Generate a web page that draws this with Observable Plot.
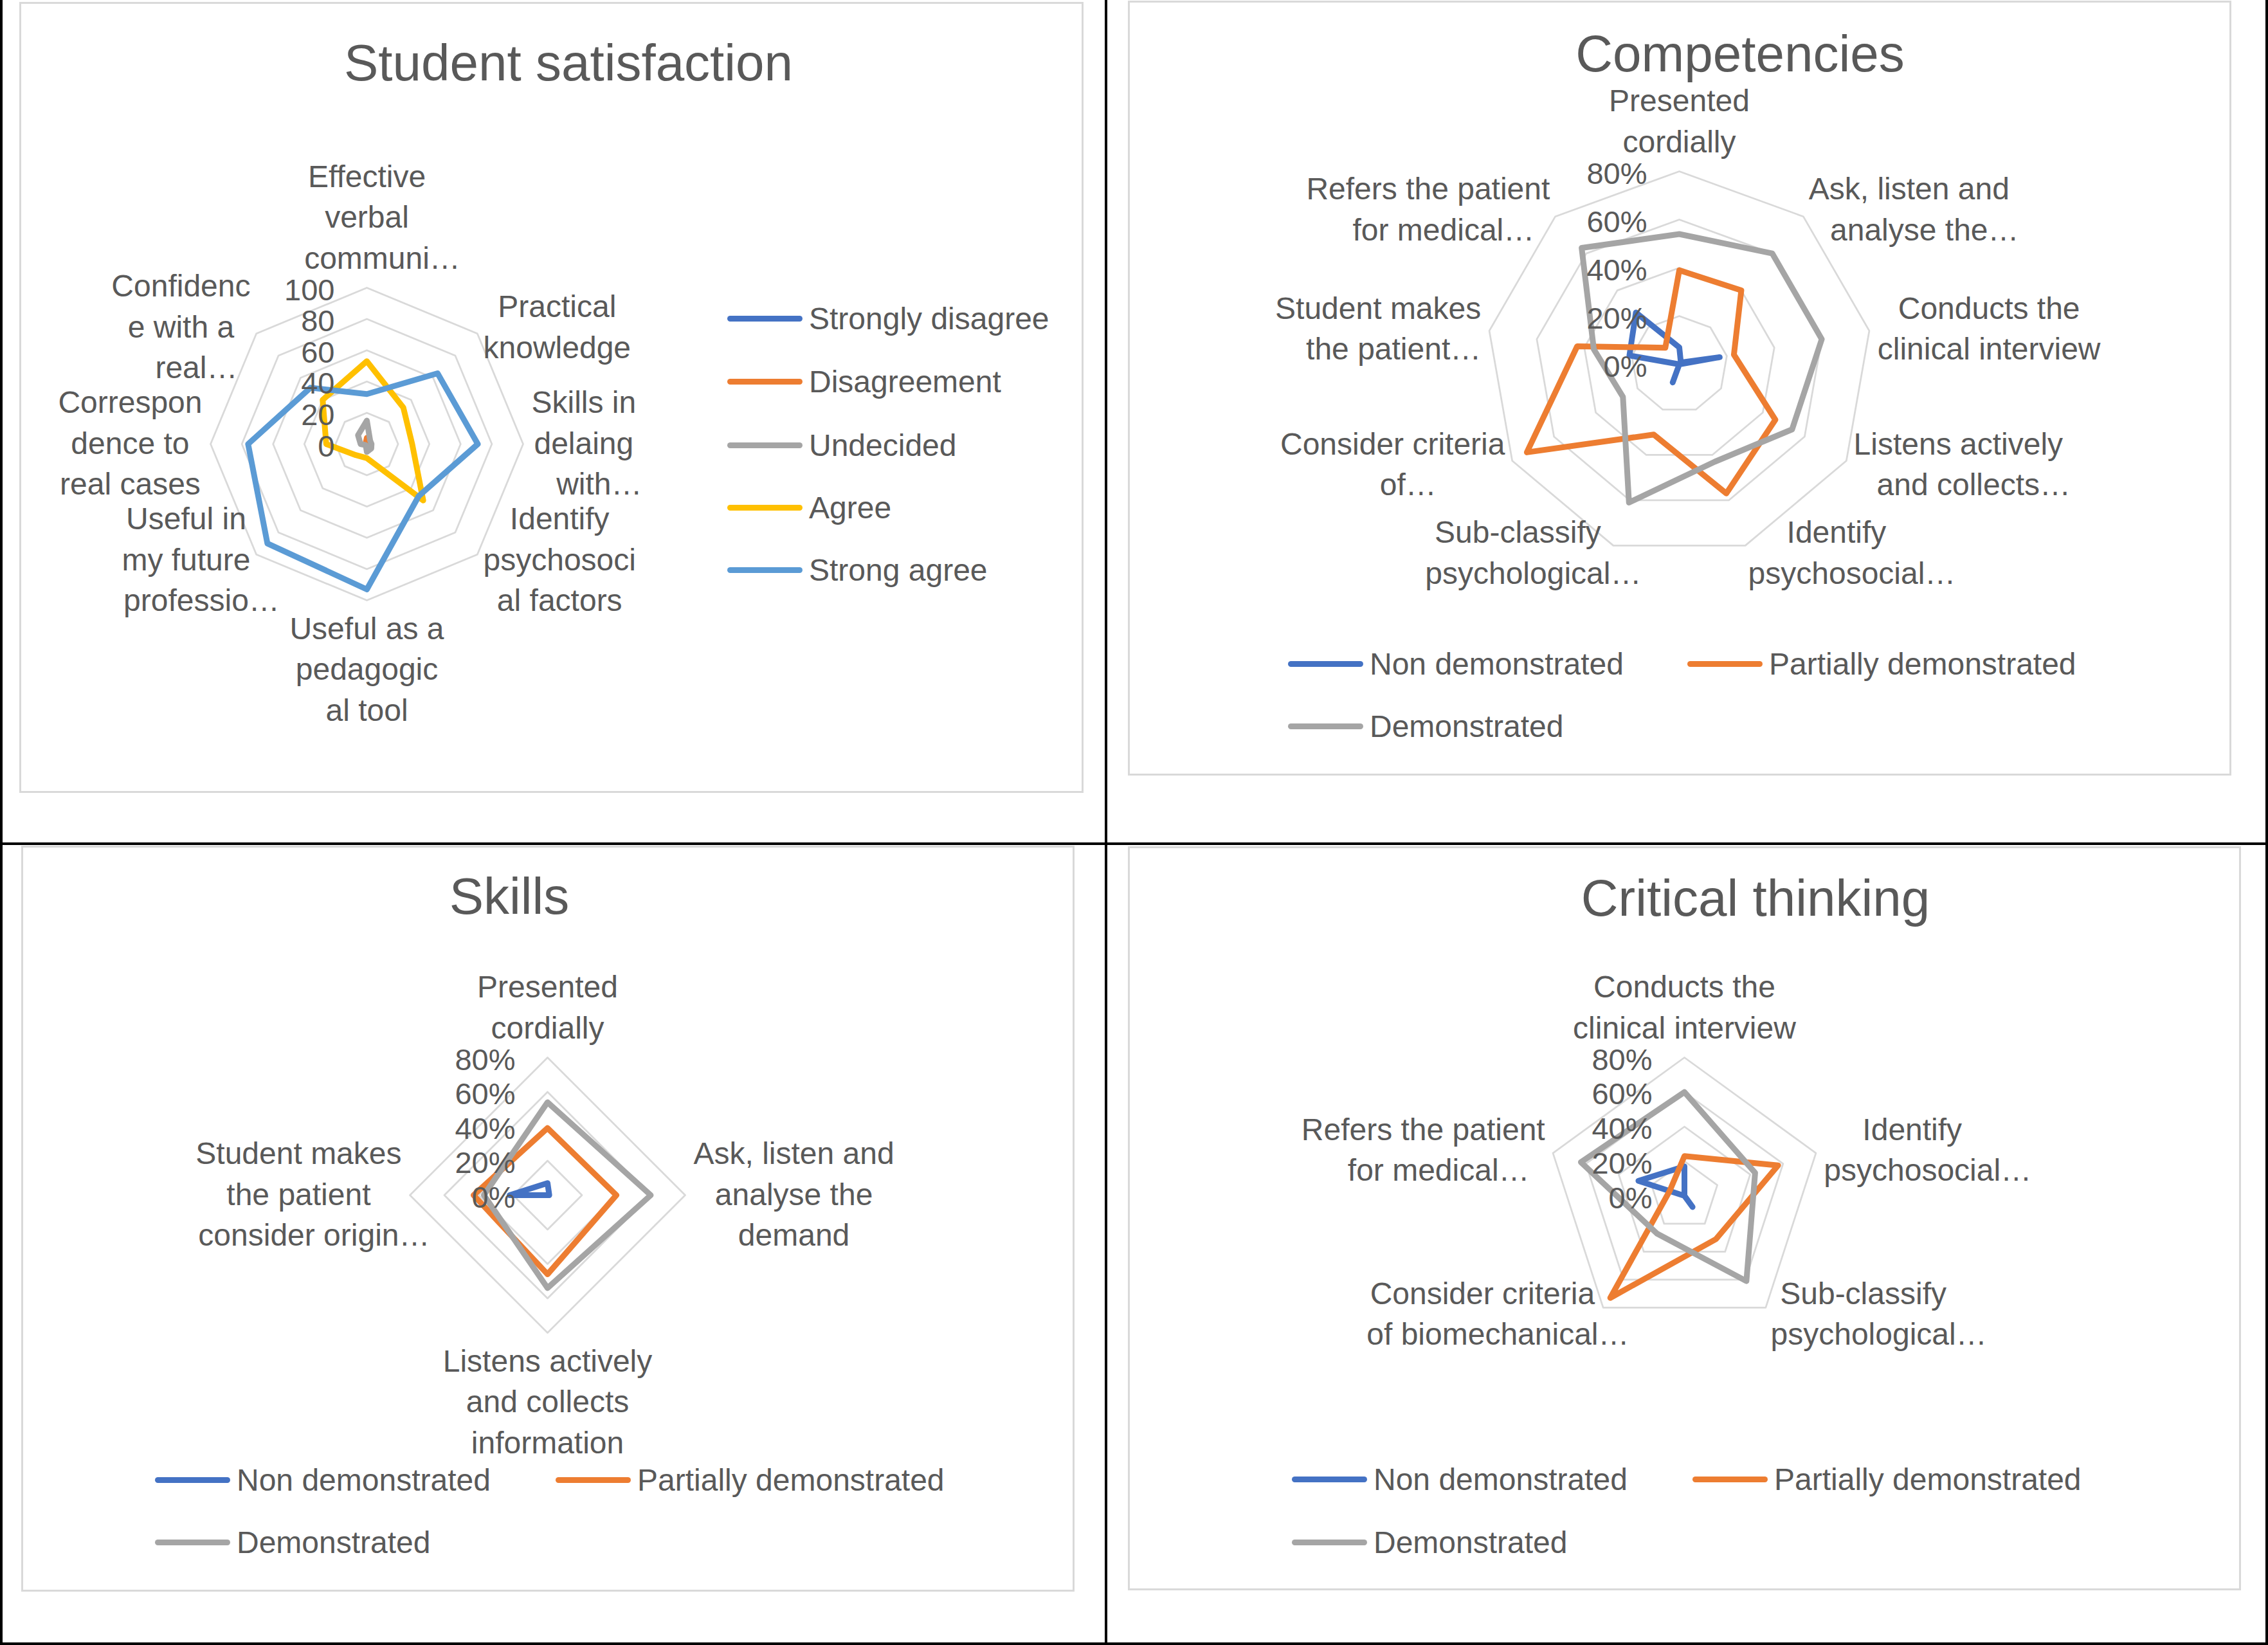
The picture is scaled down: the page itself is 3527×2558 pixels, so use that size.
<!DOCTYPE html>
<html><head><meta charset="utf-8">
<script src="https://cdn.jsdelivr.net/npm/d3@7"></script>
<script src="https://cdn.jsdelivr.net/npm/@observablehq/plot@0.6"></script>
<style>
html,body{margin:0;padding:0;background:#fff;}
#page{position:relative;width:3527px;height:2558px;overflow:hidden;background:#fff;font-family:"Liberation Sans",Arial,sans-serif;color:#595959;}
.panel{position:absolute;box-sizing:border-box;border:3px solid #d9d9d9;}
.title{position:absolute;font-size:80px;line-height:80px;white-space:nowrap;transform:translateX(-50%);}
.leg{position:absolute;display:flex;align-items:center;font-size:48px;white-space:nowrap;height:60px;}
.leg .sw{width:117px;height:9px;border-radius:4.5px;flex:none;}
.leg .tx{margin-left:10px;}
.rule{position:absolute;background:#000;}
</style></head><body><div id="page"></div>
<script>
// ---------- DATA ----------
// Student satisfaction
const satCategories = [
  "Effective\nverbal\ncommuni…",
  "Practical\nknowledge",
  "Skills in\ndelaing\nwith…",
  "Identify\npsychosoci\nal factors",
  "Useful as a\npedagogic\nal tool",
  "Useful in\nmy future\nprofessio…",
  "Correspon\ndence to\nreal cases",
  "Confidenc\ne with a\nreal…"
];
const satSeries = ["Strongly disagree", "Disagreement", "Undecided", "Agree", "Strong agree"];
const satStronglyDisagree = [0, 0, 0, 0, 0, 0, 0, 0];
const satDisagreement = [4, 1, 0, 1, 1, 0, 1, 1];
const satUndecided = [15, 3, 3, 4, 5, 1, 4, 8];
const satAgree = [53, 33, 29, 51, 9, 10, 26, 40];
const satStrongAgree = [32, 64, 71, 47, 93, 90, 76, 51];
const satTicks = [0, 20, 40, 60, 80, 100];
const satTickLabels = ["0", "20", "40", "60", "80", "100"];

// Competencies
const compCategories = [
  "Presented\ncordially",
  "Ask, listen and\nanalyse the…",
  "Conducts the\nclinical interview",
  "Listens actively\nand collects…",
  "Identify\npsychosocial…",
  "Sub-classify\npsychological…",
  "Consider criteria\nof…",
  "Student makes\nthe patient…",
  "Refers the patient\nfor medical…"
];
const demoSeries = ["Non demonstrated", "Partially demonstrated", "Demonstrated"];
const compNon = [7, 1, 17, 0, 0, 8, 0, 21, 28];
const compPartial = [39, 40, 23, 46, 57, 31, 73, 43, 9];
const compDemo = [54, 60, 60, 54, 43, 61, 27, 36, 63];

// Skills
const skillsCategories = [
  "Presented\ncordially",
  "Ask, listen and\nanalyse the\ndemand",
  "Listens actively\nand collects\ninformation",
  "Student makes\nthe patient\nconsider origin…"
];
const skillsNon = [7, 1, 0, 22];
const skillsPartial = [39, 40, 46, 43];
const skillsDemo = [54, 60, 54, 37];

// Critical thinking
const critCategories = [
  "Conducts the\nclinical interview",
  "Identify\npsychosocial…",
  "Sub-classify\npsychological…",
  "Consider criteria\nof biomechanical…",
  "Refers the patient\nfor medical…"
];
const critNon = [17, 0, 8, 0, 28];
const critPartial = [23, 57, 31, 73, 9];
const critDemo = [60, 43, 61, 27, 63];

const pctTicks = [0, 20, 40, 60, 80];
const pctTickLabels = ["0%", "20%", "40%", "60%", "80%"];

const satColors = ["#4472C4", "#ED7D31", "#A5A5A5", "#FFC000", "#5B9BD5"];
const demoColors = ["#4472C4", "#ED7D31", "#A5A5A5"];

// ---------- DRAWING ----------
const TEXT = "#595959";
const FONT = '"Liberation Sans", Arial, sans-serif';
const LABEL_SIZE = 48, TICK_SIZE = 47, LINE_H = 63.5, GAP = 13, TOPGAP = 45;
const page = document.getElementById("page");
const mctx = document.createElement("canvas").getContext("2d");
function textWidth(s, size) { mctx.font = `${size}px "Liberation Sans"`; return mctx.measureText(s).width; }

function radar(cfg) {
  const {categories, seriesNames, seriesValues, colors, ticks, tickLabels, max, box, center, radiusPx} = cfg;
  const W = box.w, H = box.h;
  const k = radiusPx / max;
  const cx = center.x - box.x, cy = center.y - box.y;
  const n = categories.length;
  const ang = i => 2 * Math.PI * i / n;
  const px = (v, i) => v * Math.sin(ang(i));
  const py = (v, i) => v * Math.cos(ang(i));
  const rings = [];
  ticks.filter(t => t > 0).forEach(t => { for (let i = 0; i < n; i++) rings.push({ring: t, x: px(t, i), y: py(t, i)}); });
  const pts = [];
  seriesNames.forEach((s, j) => seriesValues[j].forEach((v, i) => pts.push({series: s, x: px(v, i), y: py(v, i)})));
  const tickData = ticks.map((t, i) => ({v: t, label: tickLabels[i]}));
  const marks = [
    Plot.line(rings, {x: "x", y: "y", z: "ring", curve: "linear-closed", stroke: "#d9d9d9", strokeWidth: 2.75}),
    Plot.line(pts, {x: "x", y: "y", z: "series", stroke: "series", curve: "linear-closed", strokeWidth: 9, strokeLinejoin: "round", strokeLinecap: "round"}),
    Plot.text(tickData, {x: () => 0, y: "v", text: "label", textAnchor: "end", lineAnchor: "middle", dx: -50, dy: 4, fontSize: TICK_SIZE, fill: TEXT})
  ];
  categories.forEach((cat, i) => {
    const a = ang(i), s = Math.sin(a), c = Math.cos(a);
    const lines = cat.split("\n");
    const bases = lines.map(l => textWidth(l.replace(/…$/, ""), LABEL_SIZE));
    const boxW = Math.max(...bases);
    const L = lines.length;
    const vertex = [{x: px(max, i), y: py(max, i)}];
    lines.forEach((line, j) => {
      let bx, by;
      if (Math.abs(s) < 1e-6) {
        bx = 0;
        by = c > 0 ? -TOPGAP - (L - 1 - j) * LINE_H : TOPGAP + j * LINE_H;
      } else {
        bx = GAP * s + Math.sign(s) * boxW / 2;
        by = -GAP * c + (j - (L - 1) / 2) * LINE_H;
      }
      marks.push(Plot.text(vertex, {x: "x", y: "y", text: () => line, textAnchor: "start", lineAnchor: "middle",
        dx: bx - bases[j] / 2, dy: by, fontSize: LABEL_SIZE, fill: TEXT}));
    });
  });
  const svg = Plot.plot({
    width: W, height: H, margin: 0,
    x: {domain: [-cx / k, (W - cx) / k], axis: null},
    y: {domain: [-(H - cy) / k, cy / k], axis: null},
    color: {domain: seriesNames, range: colors},
    style: {fontFamily: FONT, fontSize: LABEL_SIZE + "px", color: TEXT, background: "transparent", overflow: "visible"},
    marks
  });
  svg.style.position = "absolute";
  svg.style.left = box.x + "px";
  svg.style.top = box.y + "px";
  page.appendChild(svg);
}

function panel(x1, y1, x2, y2) {
  const d = document.createElement("div");
  d.className = "panel";
  Object.assign(d.style, {left: (x1 - 1.5) + "px", top: (y1 - 1.5) + "px", width: (x2 - x1 + 3) + "px", height: (y2 - y1 + 3) + "px"});
  page.appendChild(d);
}
function title(text, cx, baseline) {
  const d = document.createElement("div");
  d.className = "title";
  d.textContent = text;
  d.style.left = cx + "px";
  d.style.top = (baseline - 67.7) + "px";
  page.appendChild(d);
}
function legendItem(text, color, x, y) {
  const d = document.createElement("div");
  d.className = "leg";
  d.style.left = x + "px";
  d.style.top = (y - 30) + "px";
  const sw = document.createElement("div"); sw.className = "sw"; sw.style.background = color;
  const tx = document.createElement("div"); tx.className = "tx"; tx.textContent = text;
  d.appendChild(sw); d.appendChild(tx);
  page.appendChild(d);
}
function rule(x, y, w, h) {
  const d = document.createElement("div");
  d.className = "rule";
  Object.assign(d.style, {left: x + "px", top: y + "px", width: w + "px", height: h + "px"});
  page.appendChild(d);
}

// panels
panel(31, 4, 1683, 1231);
panel(1755, 2, 3468, 1204);
panel(34, 1316, 1669, 2473);
panel(1755, 1317, 3483, 2471);

// table rules
rule(0, 0, 4, 2558);
rule(1718, 0, 4, 2558);
rule(3523, 0, 4, 2558);
rule(0, 1310, 3527, 4);
rule(0, 2554, 3527, 4);

// charts
radar({categories: satCategories, seriesNames: satSeries,
  seriesValues: [satStronglyDisagree, satDisagreement, satUndecided, satAgree, satStrongAgree],
  colors: satColors, ticks: satTicks, tickLabels: satTickLabels, max: 100,
  box: {x: 31, y: 4, w: 1652, h: 1227}, center: {x: 570, y: 690}, radiusPx: 243});
radar({categories: compCategories, seriesNames: demoSeries,
  seriesValues: [compNon, compPartial, compDemo],
  colors: demoColors, ticks: pctTicks, tickLabels: pctTickLabels, max: 80,
  box: {x: 1755, y: 2, w: 1713, h: 1202}, center: {x: 2611, y: 566}, radiusPx: 300});
radar({categories: skillsCategories, seriesNames: demoSeries,
  seriesValues: [skillsNon, skillsPartial, skillsDemo],
  colors: demoColors, ticks: pctTicks, tickLabels: pctTickLabels, max: 80,
  box: {x: 34, y: 1316, w: 1635, h: 1157}, center: {x: 851, y: 1858}, radiusPx: 214});
radar({categories: critCategories, seriesNames: demoSeries,
  seriesValues: [critNon, critPartial, critDemo],
  colors: demoColors, ticks: pctTicks, tickLabels: pctTickLabels, max: 80,
  box: {x: 1755, y: 1317, w: 1728, h: 1154}, center: {x: 2619, y: 1859}, radiusPx: 215});

// titles
title("Student satisfaction", 884, 126);
title("Competencies", 2706, 112);
title("Skills", 792, 1422);
title("Critical thinking", 2730, 1425);

// legends
[495, 593, 692, 789, 886].forEach((y, i) => legendItem(satSeries[i], satColors[i], 1131, y));
legendItem(demoSeries[0], demoColors[0], 2003, 1032);
legendItem(demoSeries[1], demoColors[1], 2624, 1032);
legendItem(demoSeries[2], demoColors[2], 2003, 1129);
legendItem(demoSeries[0], demoColors[0], 241, 2301);
legendItem(demoSeries[1], demoColors[1], 864, 2301);
legendItem(demoSeries[2], demoColors[2], 241, 2398);
legendItem(demoSeries[0], demoColors[0], 2009, 2300);
legendItem(demoSeries[1], demoColors[1], 2632, 2300);
legendItem(demoSeries[2], demoColors[2], 2009, 2398);
</script></body></html>
